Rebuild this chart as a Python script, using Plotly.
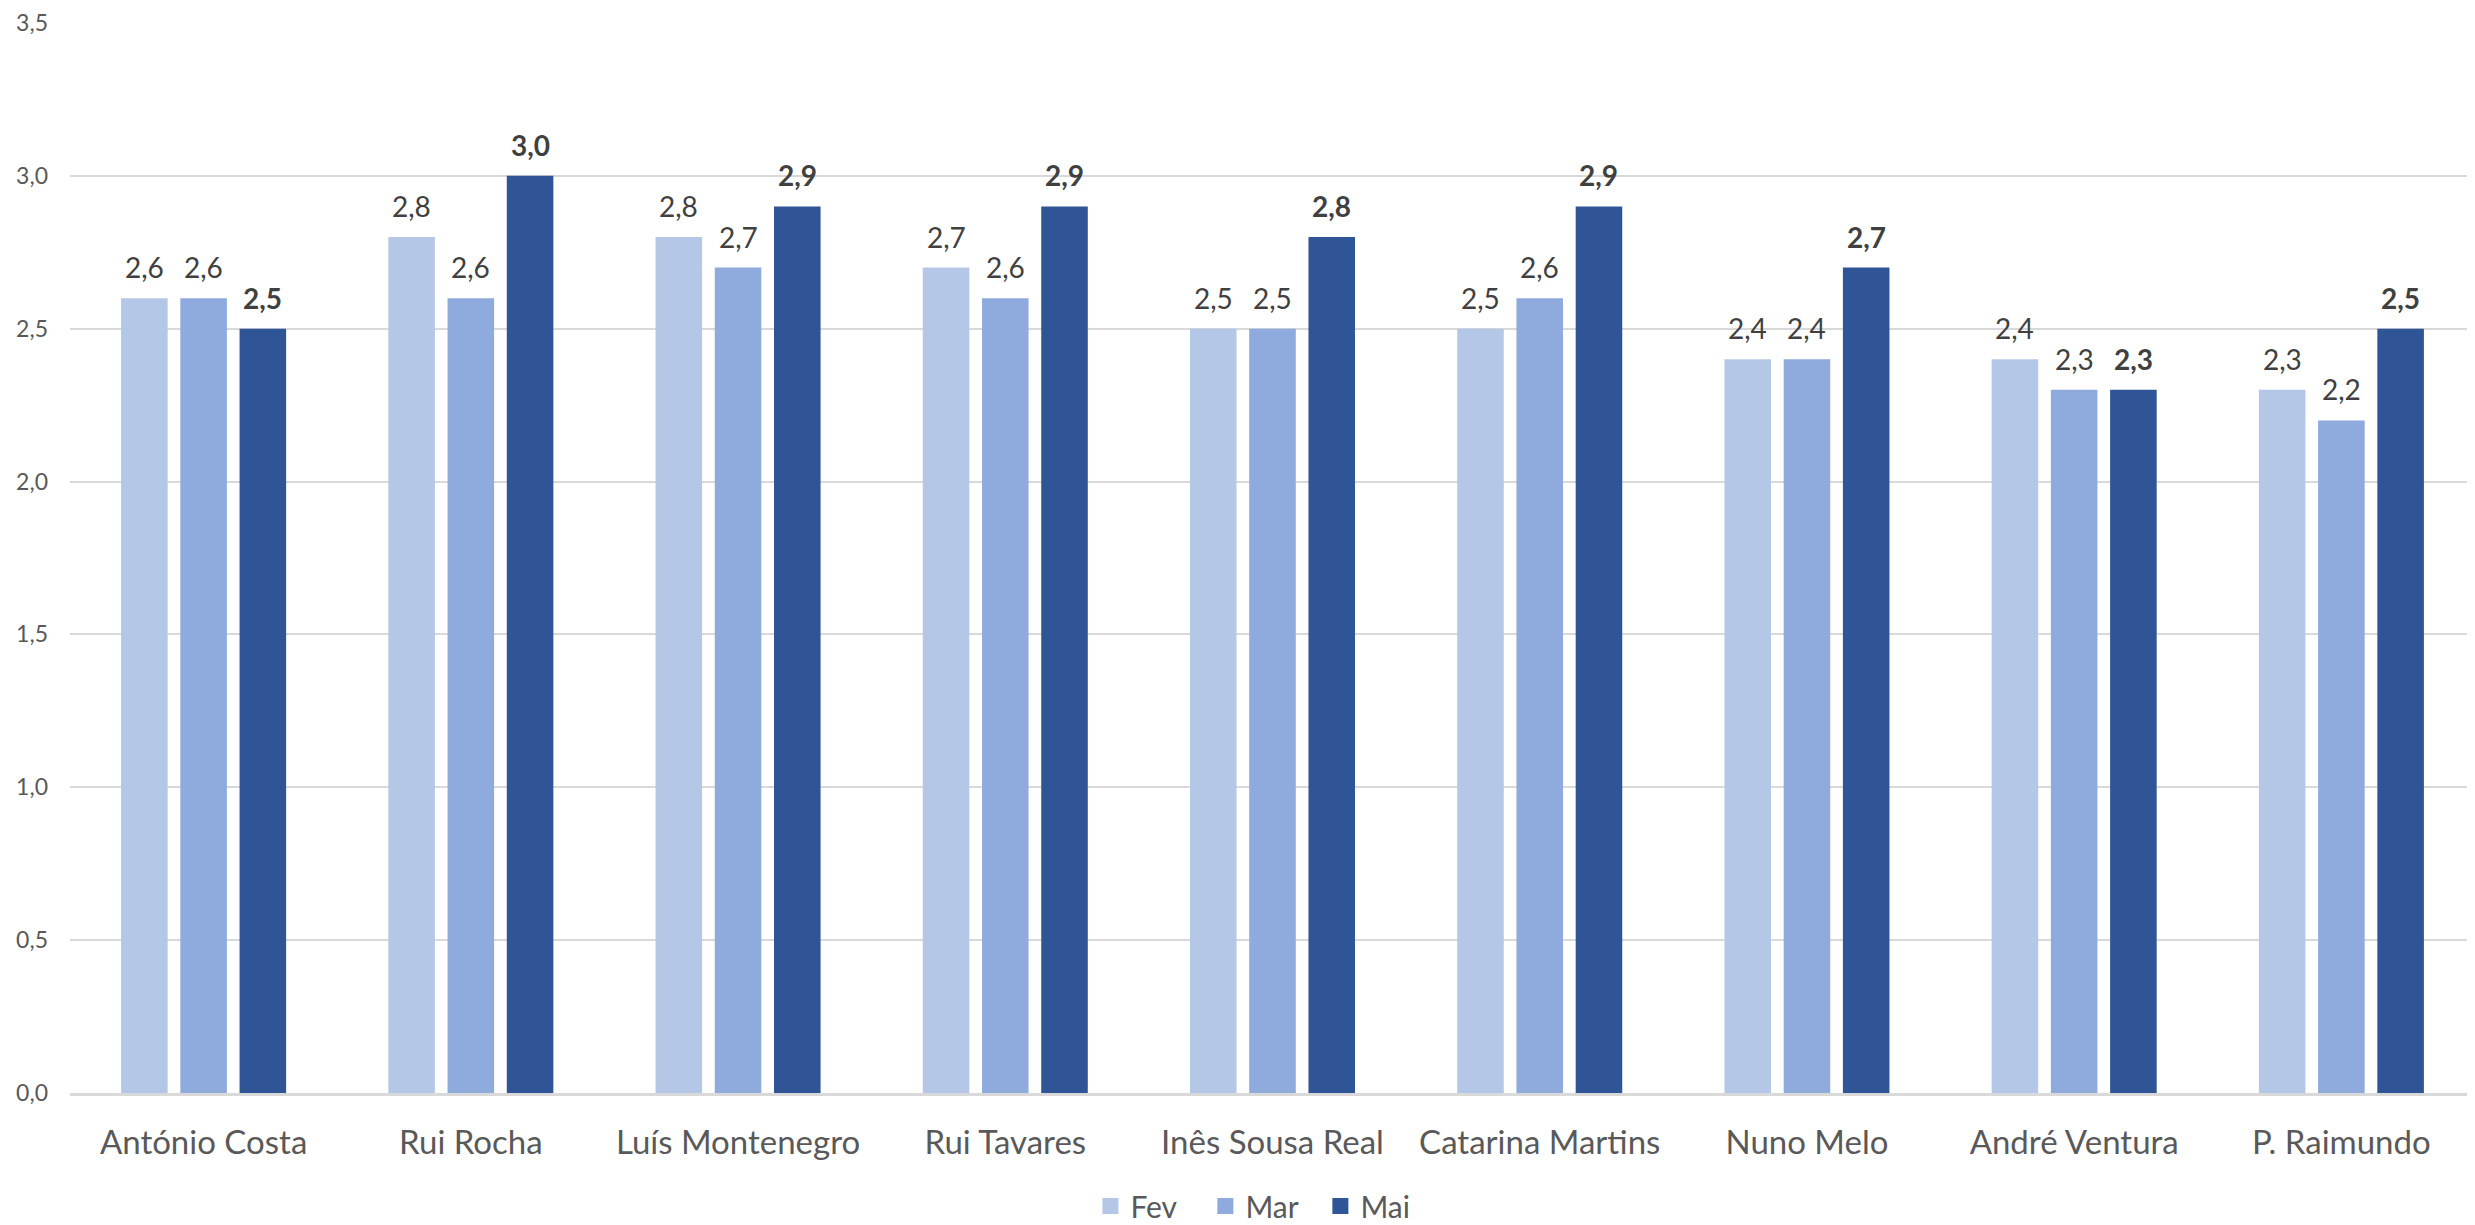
import plotly.graph_objects as go

categories = ["António Costa", "Rui Rocha", "Luís Montenegro", "Rui Tavares",
              "Inês Sousa Real", "Catarina Martins", "Nuno Melo", "André Ventura",
              "P. Raimundo"]
fev = [2.6, 2.8, 2.8, 2.7, 2.5, 2.5, 2.4, 2.4, 2.3]
mar = [2.6, 2.6, 2.7, 2.6, 2.5, 2.6, 2.4, 2.3, 2.2]
mai = [2.5, 3.0, 2.9, 2.9, 2.8, 2.9, 2.7, 2.3, 2.5]
series_names = ["Fev", "Mar", "Mai"]
tick_vals = [0, 0.5, 1.0, 1.5, 2.0, 2.5, 3.0, 3.5]

colors = ["#B4C7E7", "#8FAADC", "#2F5597"]
bold = [False, False, True]
FONT = "Lato"
BARGAP = 0.335
BARGROUPGAP = 0.214

fig = go.Figure()
series = [fev, mar, mai]
for name, vals, col in zip(series_names, series, colors):
    fig.add_trace(go.Bar(x=categories, y=vals, name=name, marker_color=col,
                         marker_line_width=0, showlegend=False))
# legend-only entries (larger square symbols)
for name, col in zip(series_names, colors):
    fig.add_trace(go.Scatter(x=[None], y=[None], mode="markers", name=name,
                             marker=dict(symbol="square", size=16, color=col),
                             showlegend=True))

# data labels, positioned via category index + group offset
slot = (1 - BARGAP) / len(series)
for k, (vals, b) in enumerate(zip(series, bold)):
    off = (k - (len(series) - 1) / 2) * slot
    for i, v in enumerate(vals):
        txt = f"{v:.1f}".replace(".", ",")
        if b:
            txt = f"<b>{txt}</b>"
        fig.add_annotation(x=i + off, y=v, xref="x", yref="y", text=txt,
                           showarrow=False, yanchor="bottom", yshift=12,
                           font=dict(family=FONT, size=28, color="#404040"))

# page body has an 8px margin, so the figure is sized/offset to compensate
fig.update_layout(
    width=2467, height=1217,
    margin=dict(l=62, r=0, t=15, b=132, autoexpand=False),
    paper_bgcolor="white", plot_bgcolor="white",
    barmode="group", bargap=BARGAP, bargroupgap=BARGROUPGAP,
    separators=",.",
    font=dict(family=FONT, color="#595959"),
    legend=dict(orientation="h", x=0.496, xanchor="center", y=-0.1055,
                yanchor="middle", font=dict(family=FONT, size=30, color="#595959"),
                traceorder="normal", itemsizing="trace",
                entrywidth=70, entrywidthmode="pixels"),
)
fig.update_yaxes(range=[0, 3.5], tickvals=tick_vals, tickformat=".1f",
                 showgrid=True, gridcolor="#D9D9D9", gridwidth=2,
                 zeroline=False, showline=False, ticks="", automargin=False,
                 tickfont=dict(family=FONT, size=23, color="#595959"),
                 ticklabelstandoff=21)
fig.update_xaxes(type="category", showline=True, linecolor="#D9D9D9", linewidth=3,
                 ticks="", showgrid=False, automargin=False,
                 tickfont=dict(family=FONT, size=33, color="#595959"),
                 ticklabelstandoff=18)

fig.write_html("out.html")
